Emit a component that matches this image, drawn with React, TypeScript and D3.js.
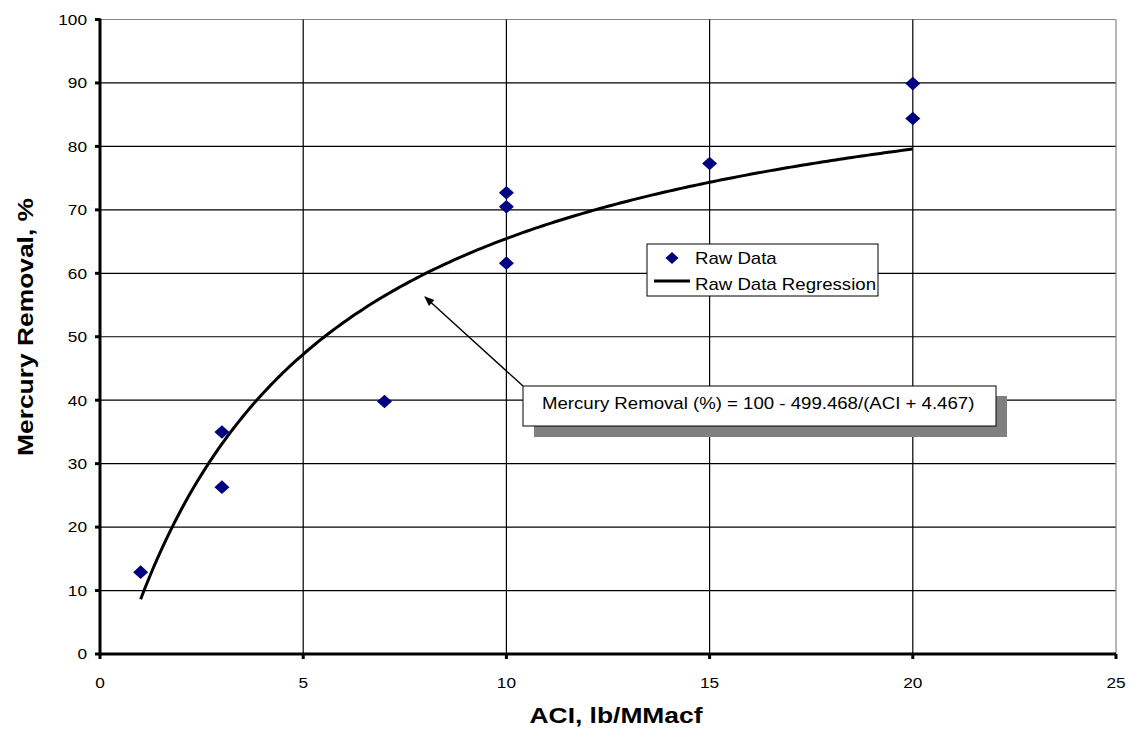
import React from "react";
import * as d3 from "d3";

const rawX = [1, 3, 3, 7, 10, 10, 10, 15, 20, 20];
const rawY = [12.9, 35.0, 26.3, 39.8, 72.7, 70.5, 61.6, 77.3, 89.9, 84.4];
const xTicks = [0, 5, 10, 15, 20, 25];
const yTicks = [0, 10, 20, 30, 40, 50, 60, 70, 80, 90, 100];
const regA = 499.468;
const regB = 4.467;
const regXStart = 1;
const regXEnd = 20;

const SX = 1.15;

function T(props: { x: number; y: number; anchor?: string; size: number; bold?: boolean; rotate?: number; children: React.ReactNode; sx?: number }) {
  const { x, y, anchor = "start", size, bold, rotate = 0, children, sx = SX } = props;
  return (
    <g transform={`translate(${x},${y}) rotate(${rotate}) scale(${sx},1)`}>
      <text x={0} y={0} textAnchor={anchor} fontSize={size} fontWeight={bold ? "bold" : "normal"}>{children}</text>
    </g>
  );
}

export default function App() {
  const W = 1129, H = 729;
  const x = d3.scaleLinear().domain([0, 25]).range([100, 1116]);
  const y = d3.scaleLinear().domain([0, 100]).range([654, 19.5]);
  const font = "'Liberation Sans', Arial, sans-serif";
  const regPts: [number, number][] = d3.range(regXStart, regXEnd + 0.0001, 0.1).map((v) => [v, 100 - regA / (v + regB)]);
  const line = d3.line<[number, number]>().x((d) => x(d[0])).y((d) => y(d[1]));
  const dia = (cx: number, cy: number, rx: number, ry: number) => `M${cx},${cy - ry}L${cx + rx},${cy}L${cx},${cy + ry}L${cx - rx},${cy}Z`;
  return (
    <svg width={W} height={H} style={{ position: "absolute", left: 0, top: 0 }} fontFamily={font}>
      <rect width={W} height={H} fill="#fff" />
      {yTicks.map((t) => (
        <line key={"gy" + t} x1={x(0)} x2={x(25)} y1={y(t)} y2={y(t)} stroke={t === 100 ? "#888" : "#000"} strokeWidth={1.2} />
      ))}
      {xTicks.map((t) => (
        <line key={"gx" + t} x1={x(t)} x2={x(t)} y1={y(0)} y2={y(100)} stroke={t === 25 ? "#888" : "#000"} strokeWidth={1.2} />
      ))}
      <line x1={x(0)} x2={x(0)} y1={y(0) + 2} y2={y(100) - 1} stroke="#000" strokeWidth={3} />
      <line x1={x(0) - 1.5} x2={x(25)} y1={y(0)} y2={y(0)} stroke="#000" strokeWidth={3} />
      {yTicks.map((t) => (
        <g key={"ty" + t}>
          <line x1={x(0) - 5} x2={x(0)} y1={y(t)} y2={y(t)} stroke="#000" strokeWidth={3} />
          <T x={87} y={y(t) + 5.3} anchor="end" size={15}>{t}</T>
        </g>
      ))}
      {xTicks.map((t) => (
        <g key={"tx" + t}>
          <line x1={x(t)} x2={x(t)} y1={y(0)} y2={y(0) + 5} stroke="#000" strokeWidth={3} />
          <T x={x(t)} y={688} anchor="middle" size={15}>{t}</T>
        </g>
      ))}
      <path d={line(regPts) || ""} fill="none" stroke="#000" strokeWidth={3} />
      {rawX.map((v, i) => (
        <path key={"p" + i} d={dia(x(v), y(rawY[i]), 7.5, 6.8)} fill="#000080" />
      ))}
      {/* legend */}
      <rect x={647} y={244} width={231} height={52} fill="#fff" stroke="#000" strokeWidth={1} />
      <path d={dia(672, 258, 6.5, 6)} fill="#000080" />
      <T x={695} y={264} size={16.2}>Raw Data</T>
      <line x1={654} x2={690} y1={281} y2={281} stroke="#000" strokeWidth={3} />
      <T x={695} y={290} size={16.2}>Raw Data Regression</T>
      {/* annotation */}
      <defs>
        <marker id="ah" viewBox="0 0 10 10" refX="9" refY="5" markerWidth="12" markerHeight="10" orient="auto-start-reverse" markerUnits="userSpaceOnUse">
          <path d="M0,1L10,5L0,9Z" fill="#000" />
        </marker>
      </defs>
      <line x1={523} x2={425} y1={386} y2={297} stroke="#000" strokeWidth={1.4} markerEnd="url(#ah)" />
      <rect x={534} y={396} width={473} height={41} fill="#808080" />
      <rect x={523} y={386} width={473} height={40} fill="#fff" stroke="#000" strokeWidth={1} />
      <T x={542} y={408.5} size={16.2}>Mercury Removal (%) = 100 - 499.468/(ACI + 4.467)</T>
      {/* axis titles */}
      <T x={616} y={723} anchor="middle" size={22} bold sx={1.2}>ACI, lb/MMacf</T>
      <T x={33} y={327} anchor="middle" size={22} bold sx={1.2} rotate={-90}>Mercury Removal, %</T>
    </svg>
  );
}
